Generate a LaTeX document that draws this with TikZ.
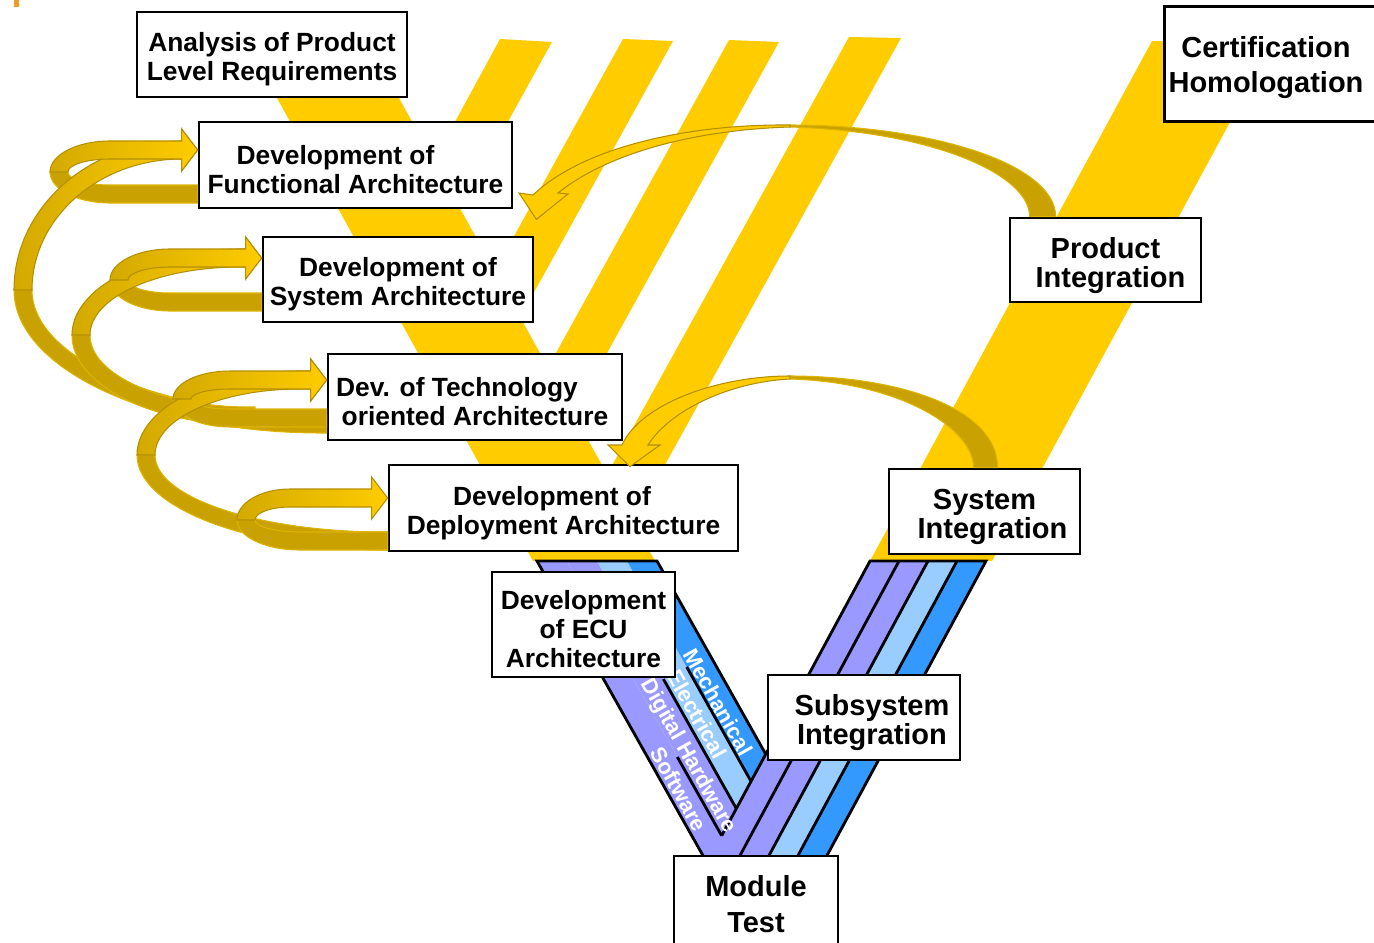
\documentclass[tikz,border=0pt]{standalone}
\usepackage{fontspec}
\setmainfont{Liberation Sans}
\usetikzlibrary{calc}
\definecolor{vyellow}{HTML}{FFCC00}
\definecolor{vgold}{HTML}{C9A100}
\definecolor{vgoldline}{HTML}{B38F00}
\definecolor{vgoldlight}{HTML}{DDB400}
\definecolor{swpurple}{HTML}{9999FF}
\definecolor{elblue}{HTML}{99CCFF}
\definecolor{mechblue}{HTML}{3399FF}
\definecolor{cornermark}{HTML}{F59A23}
\newcommand{\boxtop}{\rule{0pt}{1.1em}}
\tikzstyle{box}=[draw, line width=1.6pt, fill=white, align=center, inner sep=1pt, font=\bfseries\fontsize{15}{16.5}\selectfont]
\tikzstyle{bigbox}=[box, font=\bfseries\fontsize{16.5}{16.5}\selectfont]
\tikzstyle{strip}=[line width=1.6pt]
\tikzstyle{striplabel}=[text=white, inner sep=0pt, rotate=-60.7, font=\bfseries\fontsize{12.5}{12.5}\selectfont]
\tikzstyle{ribbonback}=[fill=vgold, draw=vgoldlight, line width=0.6pt]
\tikzstyle{ribbonfront}=[left color=vgold!80!vyellow, right color=vyellow, draw=vgoldline, line width=0.6pt]
\tikzstyle{twistfront}=[fill=vyellow, draw=vgoldline, line width=0.6pt]

\begin{document}
\begin{tikzpicture}[x=0.02cm, y=-0.02cm]
\useasboundingbox (0,0) rectangle (1374,943);

\fill[cornermark] (14,0) rectangle (19,7);

% yellow V with the nested right arms
\fill[vyellow] (244.9,40) -- (366.9,40) -- (655,561) -- (533,561) -- cycle;
\fill[vyellow] (870,561) -- (1152,41) -- (1274,41) -- (992,561) -- cycle;
\foreach \xa/\ya/\xb/\yb/\xc/\xd/\yc in {500/39/552/42/464.6/412.6/200, 623/39/673/41/521.5/470.4/315, 729/40/779/42/562.8/511.7/433, 849/37/901/38/620.6/568.1/545}
    \fill[vyellow] (\xa,\ya) -- (\xb,\yb) -- (\xc,\yc) -- (\xd,\yc) -- cycle;

% lower V, one band per discipline
\fill[swpurple] (537,561) -- (721.8,889) -- (899,561) -- (870,561) -- (721.7,835.7) -- (567,561) -- cycle;
\fill[swpurple] (567,561) -- (597,561) -- (736.3,808.5) -- (721.7,835.7) -- cycle;
\fill[swpurple] (899,561) -- (928,561) -- (750.9,889) -- (721.9,889) -- cycle;
\fill[elblue] (597,561) -- (627,561) -- (751,781.3) -- (736.3,808.5) -- cycle;
\fill[elblue] (928,561) -- (957,561) -- (779.9,889) -- (750.9,889) -- cycle;
\fill[mechblue] (627,561) -- (657,561) -- (765.7,754.1) -- (751,781.3) -- cycle;
\fill[mechblue] (957,561) -- (986,561) -- (808.9,889) -- (779.9,889) -- cycle;
\draw[strip] (721.8,889) -- (537,561) -- (657,561) -- (765.7,754.1);
\draw[strip] (721.7,835.7) -- (870,561) -- (986,561) -- (808.9,889);
\foreach \ra/\rb in {899/721.9, 928/750.9, 957/779.9}
    \draw[strip] (\ra,561) -- (\rb,889);
\draw[strip] (677.3,757) -- (721.7,835.7);
\draw[strip] (663.4,679) -- (736.3,808.5);
\draw[strip] (686.7,667) -- (751,781.3);

\node[striplabel] (mechlbl) at (718,702) {Mechanical};
\node[striplabel] (elelbl) at (697,714) {Electrical};
\node[striplabel] (dhlbl) at (688,756) {Digital Hardware};
\node[striplabel] (swlbl) at (679,789) {Software};

% boxes
\node[box, minimum width=5.4cm, minimum height=1.7cm] (ana) at (272,54.5) {\boxtop Analysis of Product\\Level Requirements};
\node[box, minimum width=6.26cm, minimum height=1.72cm] (func) at (355.5,165) {\boxtop Development of\rule{0.8cm}{0pt}\\Functional Architecture};
\node[box, minimum width=5.4cm, minimum height=1.7cm] (sysarch) at (398,279.5) {\boxtop Development of\\System Architecture};
\node[box, minimum width=5.88cm, minimum height=1.72cm] (tech) at (475,397) {\boxtop Dev. of Technology\rule{0.72cm}{0pt}\\oriented Architecture};
\node[box, minimum width=6.98cm, minimum height=1.72cm] (deploy) at (563.5,508) {\boxtop Development of\rule{0.46cm}{0pt}\\Deployment Architecture};
\node[box, minimum width=3.66cm, minimum height=2.1cm] (ecu) at (583.5,624.5) {\boxtop Development\\of ECU\\Architecture};
\node[bigbox, draw=none, minimum width=4cm, minimum height=2.24cm, font=\bfseries\fontsize{16.5}{20}\selectfont] (cert) at (1266,64) {\rule{0pt}{1em}Certification\\Homologation};
\draw[line width=1.6pt] ($(cert.north west)+(230,0)$) -- (cert.north west) -- (cert.south west) -- ++(230,0);
\node[bigbox, minimum width=3.82cm, minimum height=1.68cm] (prodint) at (1105.5,260) {\boxtop Product\\\rule{0.2cm}{0pt}Integration};
\node[bigbox, minimum width=3.82cm, minimum height=1.7cm] (sysint) at (984.5,511.5) {\boxtop System\\\rule{0.32cm}{0pt}Integration};
\node[bigbox, minimum width=3.84cm, minimum height=1.7cm] (subint) at (864,717.5) {\boxtop\rule{0.32cm}{0pt}Subsystem\\\rule{0.32cm}{0pt}Integration};
\node[bigbox, minimum width=3.28cm, minimum height=1.92cm, font=\bfseries\fontsize{16.5}{20.4}\selectfont] (modtest) at (756,904) {Module\\Test};

% iteration loops on the left
\coordinate (dtail) at (255,416);
\foreach \hn/\hy/\tn/\ty/\lx/\my/\ux/\bx in {func.west/150/tech.west/424/14/290/182/322, sysarch.west/258/dtail/416/72/335/240/250, tech.west/380/deploy.west/541/137/455/300/385, func.west/150/func.west/194/50/172/110/110, sysarch.west/258/sysarch.west/302/110/280/170/170, tech.west/380/tech.west/418/173/399/230/230, deploy.west/498/deploy.west/541/237/520/290/300}{
    \pgfmathsetmacro\ribR{\lx+18}
    \pgfmathsetmacro\tailLo{\ty+9}
    \pgfmathsetmacro\tailHi{\ty-9}
    \fill[ribbonback] (\lx,\my) .. controls (\lx,{\my+0.552*(\tailLo-\my)}) and ({\bx-0.552*(\bx-\lx)},\tailLo) .. (\bx,\tailLo) -- (\tn |- 0,\tailLo) -- (\tn |- 0,\tailHi) -- (\bx,\tailHi) .. controls ({\bx-0.552*(\bx-\ribR)},\tailHi) and (\ribR,{\my+0.552*(\tailHi-\my)}) .. (\ribR,\my) -- cycle;
}
\foreach \hn/\hy/\tn/\ty/\lx/\my/\ux/\bx in {func.west/150/tech.west/424/14/290/182/322, sysarch.west/258/dtail/416/72/335/240/250, tech.west/380/deploy.west/541/137/455/300/385, func.west/150/func.west/194/50/172/110/110, sysarch.west/258/sysarch.west/302/110/280/170/170, tech.west/380/tech.west/418/173/399/230/230, deploy.west/498/deploy.west/541/237/520/290/300}{
    \pgfmathsetmacro\ribR{\lx+18}
    \pgfmathsetmacro\headLo{\hy-9}
    \pgfmathsetmacro\headHi{\hy+9}
    \shadedraw[ribbonfront] (\lx,\my) .. controls (\lx,{\my-0.552*(\my-\headLo)}) and ({\ux-0.552*(\ux-\lx)},\headLo) .. (\ux,\headLo) -- ($(\hn |- 0,\headLo)+(-16,0)$) -- ++(0,-12) -- (\hn |- 0,\hy) -- ($(\hn |- 0,\headHi)+(-16,12)$) -- ++(0,-12) -- (\ux,\headHi) .. controls ({\ux-0.552*(\ux-\ribR)},\headHi) and (\ribR,{\my-0.552*(\my-\headHi)}) .. (\ribR,\my) -- cycle;
}

% integration feedback, right side
\fill[ribbonback] (790,125) .. controls (930,125) and ($(prodint.north west)+(47,-53)$) .. ($(prodint.north west)+(47,0)$) -- ($(prodint.north west)+(21,0)$) .. controls ($(prodint.north west)+(21,-43)$) and (930,131) .. (790,127) -- cycle;
\filldraw[twistfront] (790,125) .. controls (680,124) and (580,150) .. (533,195) -- (519,193) -- ($(func.south east)+(23,10)$) -- (568,194) -- (558,193) .. controls (605,155) and (690,130) .. (790,127) -- cycle;
\fill[ribbonback] (790,376) .. controls (900,376) and ($(sysint.north west)+(110,-59)$) .. ($(sysint.north west)+(110,0)$) -- ($(sysint.north west)+(86,0)$) .. controls ($(sysint.north west)+(86,-39)$) and (900,382) .. (790,379) -- cycle;
\filldraw[twistfront] (790,376) .. controls (715,376) and (640,405) .. (622,445) -- (608,445) -- ($(deploy.north)+(66.5,3)$) -- (660,445) -- (648,445) .. controls (670,410) and (730,382) .. (790,379) -- cycle;

\end{tikzpicture}
\end{document}
